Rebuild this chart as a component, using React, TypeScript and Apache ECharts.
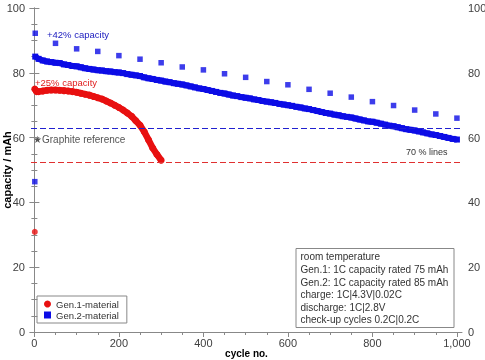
import React, { useEffect, useRef } from "react";
import * as echarts from "echarts";

// Gen.2 dense cycling data (cycle no., capacity / mAh)
const gen2Cycles = [2, 10, 20, 30, 40, 50, 60, 70, 80, 90, 100, 110, 120, 130, 140, 150, 160, 170, 180, 190, 200, 210, 220, 230, 240, 250, 260, 270, 280, 290, 300, 310, 320, 330, 340, 350, 360, 370, 380, 390, 400, 410, 420, 430, 440, 450, 460, 470, 480, 490, 500, 510, 520, 530, 540, 550, 560, 570, 580, 590, 600, 610, 620, 630, 640, 650, 660, 670, 680, 690, 700, 710, 720, 730, 740, 750, 760, 770, 780, 790, 800, 810, 820, 830, 840, 850, 860, 870, 880, 890, 900, 910, 920, 930, 940, 950, 960, 970, 980, 990, 1000];
const gen2Values = [85.0, 84.3, 83.8, 83.5, 83.3, 83.1, 83.0, 82.6, 82.4, 82.1, 82.0, 81.7, 81.4, 81.2, 81.0, 80.8, 80.7, 80.5, 80.4, 80.2, 80.1, 79.9, 79.6, 79.4, 79.2, 79.0, 78.6, 78.3, 78.1, 77.8, 77.6, 77.3, 77.1, 76.8, 76.6, 76.4, 76.1, 75.8, 75.5, 75.2, 75.0, 74.7, 74.4, 74.1, 73.8, 73.6, 73.3, 73.0, 72.8, 72.5, 72.3, 72.1, 71.8, 71.6, 71.3, 71.1, 70.9, 70.7, 70.4, 70.2, 70.0, 69.8, 69.5, 69.3, 69.0, 68.8, 68.5, 68.2, 67.9, 67.6, 67.4, 67.1, 66.9, 66.6, 66.4, 66.2, 65.9, 65.6, 65.3, 65.0, 64.9, 64.6, 64.3, 64.0, 63.7, 63.5, 63.2, 62.9, 62.6, 62.4, 62.2, 61.9, 61.6, 61.3, 61.0, 60.8, 60.5, 60.2, 59.9, 59.6, 59.4];

// Gen.2 check-up cycles
const gen2CheckCycles = [2, 50, 100, 150, 200, 250, 300, 350, 400, 450, 500, 550, 600, 650, 700, 750, 800, 850, 900, 950, 1000];
const gen2CheckValues = [92.2, 89.1, 87.4, 86.6, 85.3, 84.2, 83.1, 81.8, 80.9, 79.7, 78.6, 77.3, 76.3, 74.9, 73.7, 72.5, 71.1, 69.9, 68.5, 67.3, 66.0];

// Gen.1 dense cycling data
const gen1Cycles = [1, 5, 10, 20, 30, 40, 50, 60, 70, 80, 90, 100, 110, 120, 130, 140, 150, 160, 170, 180, 190, 200, 210, 220, 230, 240, 250, 260, 270, 280, 290, 300];
const gen1Values = [75.0, 74.2, 74.2, 74.4, 74.6, 74.7, 74.7, 74.6, 74.5, 74.4, 74.2, 74.0, 73.7, 73.4, 73.1, 72.7, 72.3, 71.9, 71.3, 70.7, 70.0, 69.3, 68.5, 67.6, 66.6, 65.2, 63.8, 61.8, 59.3, 56.8, 54.8, 53.0];

// first (formation) cycle points
const gen1First = [1, 30.9];
const gen2First = [1, 46.4];

// 70 % lines
const gen1Line70 = 52.5;
const gen2Line70 = 63;

const xMajorTicks = [0, 200, 400, 600, 800, 1000];
const xMinorTicks = [0, 50, 100, 150, 200, 250, 300, 350, 400, 450, 500, 550, 600, 650, 700, 750, 800, 850, 900, 950, 1000];

const infoLines = [
  "room temperature",
  "Gen.1: 1C capacity rated 75 mAh",
  "Gen.2: 1C capacity rated 85 mAh",
  "charge: 1C|4.3V|0.02C",
  "discharge: 1C|2.8V",
  "check-up cycles 0.2C|0.2C",
];

const RED = "#e81010";
const BLUE = "#0c0ce6";
const FONT = '"Liberation Sans", Arial, sans-serif';

function zip(xs: number[], ys: number[]) {
  return xs.map((x, i) => [x, ys[i]]);
}

export default function App() {
  const ref = useRef<HTMLDivElement>(null);
  useEffect(() => {
    if (!ref.current) return;
    const chart = echarts.init(ref.current, null, { renderer: "svg" });
    const axisLineStyle = { color: "#888", width: 1 };
    const labelStyle = { color: "#404040", fontSize: 11, fontFamily: FONT };
    const fmt = (v: number) => String(v).replace(/\B(?=(\d{3})+(?!\d))/g, ",");
    const yBase = (pos: "left" | "right") => ({
      type: "value" as const,
      min: 0,
      max: 100,
      interval: 20,
      position: pos,
      axisLine: { show: true, lineStyle: axisLineStyle },
      axisTick: { show: true, length: 5, lineStyle: axisLineStyle },
      minorTick: { show: true, splitNumber: 4, length: 3, lineStyle: axisLineStyle },
      axisLabel: { ...labelStyle, margin: 6 },
      splitLine: { show: false },
    });
    chart.setOption({
      animation: false,
      textStyle: { fontFamily: FONT },
      grid: { left: 31, right: 23, top: 8, bottom: 28, containLabel: false, outerBoundsMode: "none" },
      legend: {
        orient: "vertical",
        left: 37,
        top: 296,
        borderColor: "#888",
        borderWidth: 1,
        padding: [3, 8, 3, 7],
        itemGap: 1,
        itemWidth: 7,
        itemHeight: 7,
        textStyle: { color: "#333", fontSize: 9.5, fontFamily: FONT },
        data: [
          { name: "Gen.1-material", icon: "circle" },
          { name: "Gen.2-material", icon: "rect" },
        ],
      },
      xAxis: [
        {
          type: "value",
          min: -8,
          max: 1012,
          position: "bottom",
          axisLine: { show: true, lineStyle: axisLineStyle },
          axisTick: { show: true, customValues: xMajorTicks, length: 5, lineStyle: axisLineStyle },
          axisLabel: { ...labelStyle, customValues: xMajorTicks, formatter: fmt, margin: 5 },
          splitLine: { show: false },
          name: "cycle no.",
          nameLocation: "middle",
          nameGap: 16,
          nameMoveOverlap: false,
          nameTextStyle: { fontWeight: "bold", fontSize: 10, color: "#000", fontFamily: FONT },
        },
        {
          type: "value",
          min: -8,
          max: 1012,
          position: "bottom",
          axisLine: { show: false },
          axisTick: { show: true, customValues: xMinorTicks, length: 3, lineStyle: axisLineStyle },
          axisLabel: { show: false },
          splitLine: { show: false },
        },
      ],
      yAxis: [
        {
          ...yBase("left"),
          name: "capacity / mAh",
          nameLocation: "middle",
          nameGap: 19,
          nameMoveOverlap: false,
          nameTextStyle: { fontWeight: "bold", fontSize: 11, color: "#000", fontFamily: FONT },
        },
        yBase("right"),
      ],
      series: [
        {
          name: "Gen.1-material",
          type: "line",
          data: zip(gen1Cycles, gen1Values),
          symbol: "circle",
          symbolSize: 7,
          showAllSymbol: true,
          lineStyle: { color: RED, width: 6.5 },
          itemStyle: { color: RED },
          z: 3,
          markLine: {
            silent: true,
            symbol: ["none", "none"],
            label: { show: false },
            lineStyle: { type: [6, 3], color: "#e03030", width: 1 },
            data: [{ yAxis: gen1Line70 }],
          },
        },
        {
          name: "Gen.2-material",
          type: "line",
          data: zip(gen2Cycles, gen2Values),
          symbol: "rect",
          symbolSize: 6,
          showAllSymbol: true,
          lineStyle: { color: BLUE, width: 6 },
          itemStyle: { color: BLUE },
          z: 2,
          markLine: {
            silent: true,
            symbol: ["none", "none"],
            label: { show: false },
            lineStyle: { type: [6, 3], color: "#2020d0", width: 1 },
            data: [{ yAxis: gen2Line70 }],
          },
        },
        {
          name: "Gen.2 check-up",
          type: "scatter",
          data: zip(gen2CheckCycles, gen2CheckValues),
          symbol: "rect",
          symbolSize: 5.5,
          itemStyle: { color: BLUE },
        },
        {
          name: "Gen.2 first",
          type: "scatter",
          data: [gen2First],
          symbol: "rect",
          symbolSize: 5.5,
          itemStyle: { color: BLUE },
        },
        {
          name: "Gen.1 first",
          type: "scatter",
          data: [gen1First],
          symbol: "circle",
          symbolSize: 6,
          itemStyle: { color: RED },
        },
      ],
      graphic: [
        { type: "text", x: 47, y: 34, style: { text: "+42% capacity", font: `9.5px ${FONT}`, fill: "#2020c0", verticalAlign: "middle" } },
        { type: "text", x: 35, y: 82.5, style: { text: "+25% capacity", font: `9.5px ${FONT}`, fill: "#e02020", verticalAlign: "middle" } },
        { type: "text", x: 33, y: 139, style: { text: "★Graphite reference", font: `10px ${FONT}`, fill: "#555", verticalAlign: "middle" } },
        { type: "text", x: 406, y: 152, style: { text: "70 % lines", font: `9px ${FONT}`, fill: "#333", verticalAlign: "middle" } },
        {
          type: "rect",
          shape: { x: 296, y: 248.5, width: 158, height: 79 },
          style: { fill: "#fff", stroke: "#888", lineWidth: 1 },
          z: 10,
        },
        {
          type: "text",
          x: 300.5,
          y: 250.5,
          z: 11,
          style: { text: infoLines.join("\n"), font: `10px ${FONT}`, fill: "#333", lineHeight: 12.6, verticalAlign: "top" },
        },
      ],
    });
    return () => chart.dispose();
  }, []);
  return <div ref={ref} style={{ position: "fixed", left: 0, top: 0, width: 485, height: 360 }} />;
}
